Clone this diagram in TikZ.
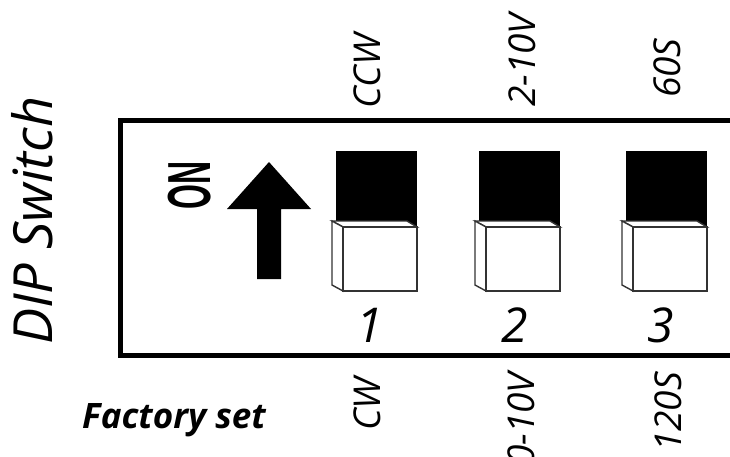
\documentclass[tikz,border=0pt]{standalone}
\usepackage{fontspec}
\setmainfont{Open Sans}
\newfontfamily\onfont{Liberation Sans}
\begin{document}
\begin{tikzpicture}[x=1pt,y=-1pt,
  vlbl/.style={inner sep=0pt, rotate=90, anchor=base west, font=\fontsize{37}{37}\selectfont\itshape},
  numlbl/.style={inner sep=0pt, anchor=base, font=\fontsize{48}{48}\selectfont\itshape},
  swface/.style={draw=black!80, fill=white, line width=1.4pt, line join=miter},
  frame/.style={line width=5pt, draw=black}]
\useasboundingbox (0,0) rectangle (730,457);
% title
\node[inner sep=0pt, rotate=90, anchor=base west, font=\fontsize{54}{54}\selectfont\itshape] (title) at (52,345) {DIP Switch};
% frame
\draw[frame] (740,121) -- (120,121) -- (120,355) -- (740,355);
% ON label and arrow
\node[inner sep=0pt, rotate=90, yscale=1.9, anchor=base west, font=\fontsize{32}{32}\selectfont\onfont\bfseries] (on) at (210,210) {ON};
\fill[black] (269,162) -- (311,209) -- (281,209) -- (281,279) -- (257,279) -- (257,209) -- (227,209) -- cycle;
% switches
\foreach \x/\n in {343/1,486/2,633/3}{
  \fill[black] ({\x-7},151) rectangle ({\x+74},227);
  \filldraw[swface] ({\x-11},221) -- ({\x+64},221) -- ({\x+74},227) -- (\x,227) -- cycle;
  \filldraw[swface] ({\x-11},221) -- (\x,227) -- (\x,291) -- ({\x-11},285) -- cycle;
  \filldraw[swface] (\x,227) rectangle ({\x+74},291);
}
% numbers
\node[numlbl] (n1) at (370,342) {1};
\node[numlbl] (n2) at (515,342) {2};
\node[numlbl] (n3) at (661,342) {3};
% top labels
\node[vlbl] (t1) at (380,109) {CCW};
\node[vlbl] (t2) at (535,107) {2-10V};
\node[vlbl] (t3) at (680,98) {60S};
% bottom labels
\node[vlbl] (b1) at (380,431) {CW};
\node[vlbl] (b2) at (534,466) {0-10V};
\node[vlbl] (b3) at (681,452) {120S};
% factory set
\node[inner sep=0pt, anchor=base west, font=\fontsize{35}{35}\selectfont\bfseries\itshape] (fs) at (82,428) {Factory set};
\end{tikzpicture}
\end{document}
